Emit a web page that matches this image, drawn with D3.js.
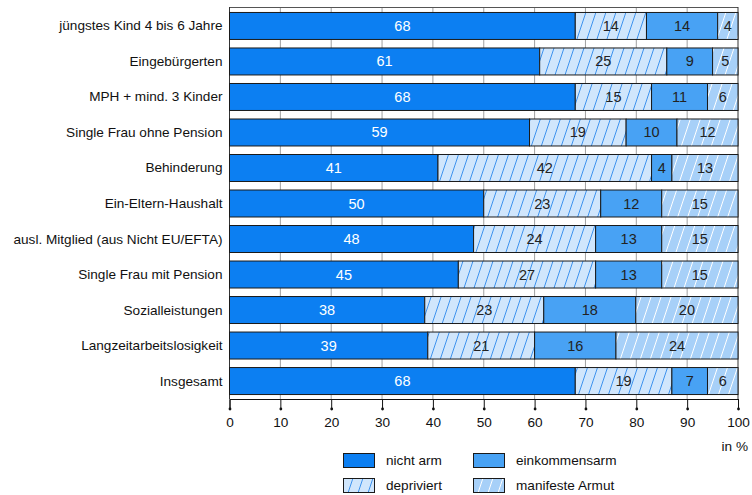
<!DOCTYPE html>
<html lang="de">
<head>
<meta charset="UTF-8">
<title>Armutsgefährdung nach Gruppen</title>
<script src="https://cdnjs.cloudflare.com/ajax/libs/d3/7.8.5/d3.min.js"></script>
<style>
  body { margin: 0; background: #fff; }
  svg { display: block; font-family: "Liberation Sans", Arial, sans-serif; }
</style>
</head>
<body>
<svg width="752" height="495"></svg>
<script>
// categories top to bottom
const groups = [
  "jüngstes Kind 4 bis 6 Jahre", "Eingebürgerten", "MPH + mind. 3 Kinder",
  "Single Frau ohne Pension", "Behinderung", "Ein-Eltern-Haushalt",
  "ausl. Mitglied (aus Nicht EU/EFTA)", "Single Frau mit Pension",
  "Sozialleistungen", "Langzeitarbeitslosigkeit", "Insgesamt"
];
const seriesNames = ["nicht arm", "depriviert", "einkommensarm", "manifeste Armut"];
const nichtArm      = [68, 61, 68, 59, 41, 50, 48, 45, 38.4, 39, 68];
const depriviert    = [14, 25, 15, 19, 42, 23, 24, 27, 23.4, 21, 19];
const einkommensarm = [14,  9, 11, 10,  4, 12, 13, 13, 18.1, 16,  7];
const manifest      = [ 4,  5,  6, 12, 13, 15, 15, 15, 20.1, 24,  6];
const xTicks = [0, 10, 20, 30, 40, 50, 60, 70, 80, 90, 100];

const svg = d3.select("svg");
const plotL = 229.5, plotR = 738, plotT = 7, plotB = 399;

const x = d3.scaleLinear().domain([0, 100]).range([plotL, plotR]);
const y = d3.scaleBand().domain(groups).range([plotT, plotB])
  .paddingInner(0.24).paddingOuter(0.14);

// fills + hatching
const defs = svg.append("defs");
function hatch(id, bg, line) {
  const p = defs.append("pattern").attr("id", id)
    .attr("patternUnits", "userSpaceOnUse").attr("width", 10).attr("height", 30);
  p.append("rect").attr("width", 10).attr("height", 30).attr("fill", bg);
  [-10, 0, 10].forEach(o => {
    p.append("line").attr("x1", o).attr("y1", 30).attr("x2", o + 10).attr("y2", 0)
      .attr("stroke", line).attr("stroke-width", 1);
  });
}
hatch("hDep", "#d0e6fc", "#3d92ee");
hatch("hMan", "#a7d0f8", "#ffffff");
const fills = ["#0c7ff2", "url(#hDep)", "#48a2f4", "url(#hMan)"];
const textCol = ["#fff", "#222", "#222", "#222"];

// gridlines
svg.append("g").selectAll("line").data(xTicks.slice(1, -1)).join("line")
  .attr("x1", d => x(d)).attr("x2", d => x(d))
  .attr("y1", plotT).attr("y2", plotB)
  .attr("stroke", "#a0a0a0").attr("stroke-width", 1);

// frame
svg.append("line").attr("x1", plotL).attr("x2", plotR).attr("y1", plotT + 0.5).attr("y2", plotT + 0.5)
  .attr("stroke", "#555");
svg.append("line").attr("x1", plotR).attr("x2", plotR).attr("y1", plotT).attr("y2", plotB)
  .attr("stroke", "#333");
svg.append("line").attr("x1", plotL).attr("x2", plotL).attr("y1", plotT).attr("y2", plotB)
  .attr("stroke", "#333");

// stacked data
const rows = groups.map((g, i) => ({
  group: g,
  vals: [nichtArm[i], depriviert[i], einkommensarm[i], manifest[i]]
}));

const segs = [];
rows.forEach(r => {
  let acc = 0;
  r.vals.forEach((v, k) => {
    segs.push({ group: r.group, k: k, v: v, x0: acc, x1: acc + v });
    acc += v;
  });
});

const bars = svg.append("g");
bars.selectAll("rect").data(segs).join("rect")
  .attr("x", d => x(d.x0))
  .attr("width", d => x(d.x1) - x(d.x0))
  .attr("y", d => y(d.group) + 0.5)
  .attr("height", y.bandwidth())
  .attr("fill", d => fills[d.k])
  .attr("stroke", "#1a1a1a").attr("stroke-width", 1);

bars.selectAll("text").data(segs).join("text")
  .attr("x", d => (x(d.x0) + x(d.x1)) / 2)
  .attr("y", d => y(d.group) + y.bandwidth() / 2 + 5.5)
  .attr("text-anchor", "middle")
  .attr("font-size", "14.5px")
  .attr("fill", d => textCol[d.k])
  .text(d => d3.format(".0f")(d.v));

// category labels
svg.append("g").selectAll("text").data(groups).join("text")
  .attr("x", 222.5)
  .attr("y", d => y(d) + y.bandwidth() / 2 + 5)
  .attr("text-anchor", "end")
  .attr("font-size", "13.6px")
  .attr("fill", "#111")
  .text(d => d);

// x axis
const ax = svg.append("g").attr("transform", `translate(0,${plotB})`)
  .call(d3.axisBottom(x).tickValues(xTicks).tickSize(10).tickPadding(8).tickFormat(d3.format("d")));
ax.select(".domain").attr("stroke", "#111");
ax.selectAll(".tick line").attr("stroke", "#111");
ax.selectAll(".tick").append("circle").attr("cy", 10).attr("r", 1.4).attr("fill", "#111");
ax.selectAll(".tick text").attr("font-size", "13.6px").attr("fill", "#111")
  .attr("font-family", "Liberation Sans, Arial, sans-serif");

svg.append("text").attr("x", 748).attr("y", 451).attr("text-anchor", "end")
  .attr("font-size", "13.6px").attr("fill", "#111").text("in %");

// legend
const legPos = [[343, 453], [343, 478], [473, 453], [473, 478]];
const leg = svg.append("g").selectAll("g").data(seriesNames).join("g")
  .attr("transform", (d, i) => `translate(${legPos[i][0]},${legPos[i][1]})`);
leg.append("rect").attr("x", 0.5).attr("y", 0.5).attr("width", 31).attr("height", 14)
  .attr("fill", (d, i) => fills[i]).attr("stroke", "#1a1a1a");
leg.append("text").attr("x", 43).attr("y", 12).attr("font-size", "13.6px").attr("fill", "#111")
  .text(d => d);
</script>
</body>
</html>
